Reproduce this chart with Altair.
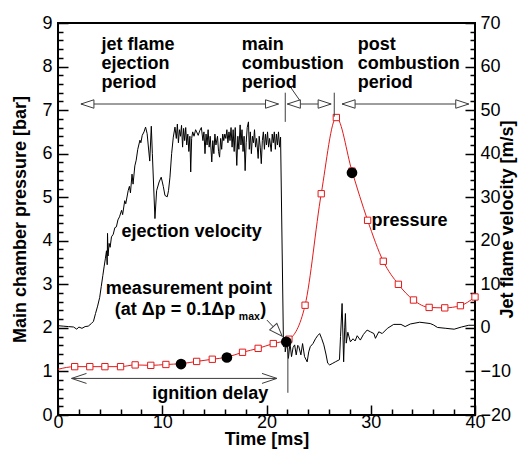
import altair as alt
import pandas as pd

# ---------------- data ----------------
# pressure (left axis, bar): square markers
p_time = [1.6, 3.05, 4.5, 6.0, 7.4, 8.9, 10.35, 11.85, 13.3, 14.8, 16.25, 17.7, 19.2,
          20.65, 22.15, 23.7, 25.25, 26.7, 28.2, 29.7, 31.2, 32.65, 34.1, 35.6, 37.1,
          38.6, 40.0]
p_val = [1.11, 1.11, 1.11, 1.11, 1.15, 1.14, 1.16, 1.18, 1.23, 1.28, 1.33, 1.44, 1.53,
         1.64, 1.74, 2.52, 5.08, 6.83, 5.6, 4.47, 3.53, 3.0, 2.64, 2.47, 2.46, 2.51, 2.71]
p_start_time = [0.0]
p_start_val = [1.05]

# jet flame velocity (right axis, m/s)
v_time = [0.0, 0.5, 1.0, 1.5, 1.8, 2.0, 2.3, 2.6, 2.9, 3.2, 3.4, 3.6, 3.8, 4.0, 4.15,
          4.3, 4.42, 4.55, 4.65, 4.72, 4.75, 4.8, 4.9, 5.0, 5.13, 5.3, 5.45, 5.6, 5.75,
          5.9, 6.1, 6.2, 6.4, 6.5, 6.73, 6.85, 6.95, 7.1, 7.2, 7.37, 7.5, 7.65, 7.86,
          7.95, 8.08, 8.25, 8.4, 8.55, 8.8, 8.95, 9.05, 9.3, 9.46, 9.7, 9.9, 10.1, 10.26,
          10.48, 10.6, 10.74, 10.9, 11.06, 11.22, 11.35, 11.45, 11.55, 11.65, 11.75,
          11.85, 11.95, 12.05, 12.15, 12.25, 12.35, 12.45, 12.55, 12.65, 12.73, 12.82,
          12.92, 13.05, 13.2, 13.3, 13.45, 13.6, 13.75, 13.9, 14.0, 14.1, 14.2, 14.3,
          14.4, 14.5, 14.6, 14.75, 14.85, 14.95, 15.05, 15.15, 15.3, 15.4, 15.5, 15.6,
          15.7, 15.8, 15.9, 16.0, 16.1, 16.2, 16.3, 16.4, 16.5, 16.6, 16.7, 16.8, 16.9,
          17.0, 17.15, 17.25, 17.35, 17.47, 17.55, 17.65, 17.75, 17.85, 17.95, 18.05,
          18.15, 18.27, 18.35, 18.45, 18.55, 18.65, 18.75, 18.85, 18.95, 19.05, 19.2,
          19.3, 19.4, 19.5, 19.6, 19.7, 19.8, 19.9, 20.0, 20.1, 20.2, 20.3, 20.45, 20.55,
          20.65, 20.75, 20.85, 20.95, 21.05, 21.15, 21.25, 21.35, 21.63, 21.75, 21.8,
          21.95, 22.1, 22.25, 22.4, 22.55, 22.7, 22.85, 23.0, 23.1, 23.3, 23.46, 23.65,
          23.9, 24.05, 24.2, 24.46, 24.7, 24.9, 25.1, 25.3, 25.5, 25.7, 25.87, 26.06,
          26.3, 26.6, 27.0, 27.1, 27.25, 27.4, 27.5, 27.57, 27.65, 27.8, 28.05, 28.3,
          28.5, 28.7, 29.0, 29.3, 29.65, 29.97, 30.3, 30.45, 30.77, 31.1, 31.6, 32.2,
          32.9, 33.3, 33.8, 34.7, 35.7, 36.0, 36.4, 37.2, 38.0, 38.7, 39.4, 40.0]
v_val = [0.5, 0.4, 0.3, 0.2, -0.3, 0.2, -0.1, 0.3, 0.4, 1.0, 1.5, 3.3, 5.0, 7.0, 9.5,
         12.0, 14.0, 16.0, 17.7, 14.5, 21.7, 16.5, 19.4, 18.5, 20.9, 21.5, 23.0, 23.2,
         24.8, 25.5, 27.0, 26.0, 29.2, 28.5, 31.5, 32.5, 31.0, 35.3, 33.0, 37.2, 38.5,
         41.0, 43.1, 42.5, 44.2, 45.0, 46.1, 44.6, 38.3, 46.3, 40.0, 25.1, 31.5, 33.5,
         34.6, 32.5, 30.4, 30.1, 31.5, 34.6, 40.0, 43.8, 46.1, 43.5, 46.8, 42.5, 45.5,
         44.0, 46.5, 41.5, 45.8, 43.0, 46.0, 42.0, 44.5, 40.5, 44.0, 35.8, 43.5, 45.0,
         44.0, 45.5, 45.0, 44.2, 45.3, 46.0, 43.0, 45.0, 40.0, 44.5, 42.0, 45.5, 41.5,
         44.0, 38.1, 43.0, 40.0, 44.5, 42.0, 44.0, 40.5, 39.2, 43.5, 41.0, 44.5, 43.0,
         44.5, 43.5, 45.5, 42.5, 45.0, 43.0, 46.0, 41.5, 45.5, 40.5, 46.0, 37.3, 44.0,
         41.0, 46.6, 42.0, 45.5, 40.5, 44.0, 36.1, 42.5, 46.0, 47.3, 41.0, 45.0, 40.0,
         44.0, 42.5, 45.5, 41.5, 43.5, 38.9, 44.0, 41.5, 37.7, 43.0, 45.0, 41.0, 44.5,
         42.0, 45.0, 41.5, 43.5, 40.5, 44.5, 42.5, 45.0, 41.0, 44.5, 42.0, 45.0, 41.5,
         43.8, -4.3, -2.5, -5.5, -3.0, -7.0, -3.5, -6.6, -4.5, -3.9, -6.2, -4.0, -4.3,
         -6.2, -3.6, -6.6, -7.8, -5.5, -4.3, -3.6, -2.5, -1.8, -1.3, -2.5, -3.9, -6.0,
         -8.1, -8.5, -8.2, -7.8, -7.3, -2.0, 5.6, -7.8, 0.0, 3.3, -3.5, -1.0, -3.2, -2.5,
         -3.0, -1.8, -2.8, -1.5, -0.5, -0.9, -1.3, -2.4, -0.9, -1.3, -0.1, 0.8, 0.8, 0.3,
         0.9, 1.3, 1.0, 0.7, 0.1, -0.1, -0.3, 0.2, 0.6, 0.6]

# measurement points (black dots)
dot_time = [11.8, 16.2, 21.9, 28.2]
dot_val = [1.17, 1.32, 1.68, 5.56]

# axis ticks
x_major = [0, 10, 20, 30, 40]
x_minor = [2, 4, 6, 8, 12, 14, 16, 18, 22, 24, 26, 28, 32, 34, 36, 38]
p_major = [0, 1, 2, 3, 4, 5, 6, 7, 8, 9]
p_minor = [round(i * 0.2, 1) for i in range(46) if i % 5 != 0]
v_major = [-20, -10, 0, 10, 20, 30, 40, 50, 60, 70]
v_minor = [v for v in range(-20, 71, 2) if v % 10 != 0]

# annotations (in time / pressure units)
period_start = [2.2, 22.0, 27.25]
period_end = [21.15, 26.2, 39.4]
period_level = [7.14, 7.14, 7.14]
ign_start = [1.3]
ign_end = [21.0]
ign_level = [0.84]
vline_time = [21.8, 26.5, 22.05]
vline_top = [7.4, 7.4, 1.55]
vline_bottom = [6.73, 6.85, 0.51]
lead_t1 = [22.06, 20.04]
lead_p1 = [7.61, 2.18]
lead_t2 = [23.2, 21.5]
lead_p2 = [7.22, 1.81]
meas_tip_t = [21.5]
meas_tip_p = [1.81]

labels_big = ["jet flame\nejection\nperiod", "main\ncombustion\nperiod",
              "post\ncombustion\nperiod", "ejection velocity", "pressure",
              "measurement point", "(at \u0394p = 0.1\u0394p", ")", "ignition delay"]
labels_big_t = [4.17, 17.63, 28.75, 6.1, 30.07, 4.59, 5.45, 19.4, 9.04]
labels_big_p = [8.39, 8.39, 8.39, 4.08, 4.33, 2.78, 2.29, 2.29, 0.36]
labels_small = ["max"]
labels_small_t = [17.35]
labels_small_p = [2.18]

# ---------------- chart ----------------
RED = "#e41a1a"
GRAY = "#3c3c3c"
FONT = "Liberation Sans"

xs = alt.Scale(domain=[0, 40], nice=False, zero=False)
ps = alt.Scale(domain=[0, 9], nice=False, zero=False)
vs = alt.Scale(domain=[-20, 70], nice=False, zero=False)

df_pline = pd.DataFrame({"t": p_start_time + p_time, "p": p_start_val + p_val})
df_pmark = pd.DataFrame({"t": p_time, "p": p_val})
df_v = pd.DataFrame({"t": v_time, "v": v_val})
df_dot = pd.DataFrame({"t": dot_time, "p": dot_val})


def XA(field="t", axis=None):
    return alt.X(f"{field}:Q", scale=xs, axis=axis)


def PY(field="p", axis=None):
    return alt.Y(f"{field}:Q", scale=ps, axis=axis)


vel = alt.Chart(df_v).mark_line(color="black", strokeWidth=1).encode(
    x=XA(),
    y=alt.Y("v:Q", scale=vs, axis=alt.Axis(
        orient="right", title="Jet flame velocity [m/s]", values=v_major,
        ticks=False, tickSize=0, domain=False, labelPadding=5,
        titleAngle=270, titleBaseline="top", titleAlign="center",
        titleX=23, titleY=196)),
)

pline = alt.Chart(df_pline).mark_line(color=RED, strokeWidth=1, interpolate="monotone").encode(
    x=XA(axis=alt.Axis(orient="bottom", title="Time [ms]", values=x_major,
                       ticks=False, tickSize=0, domain=False, labelPadding=-2,
                       titlePadding=-1)),
    y=PY(axis=alt.Axis(orient="left", title="Main chamber pressure [bar]",
                       values=p_major, ticks=False, tickSize=0, domain=False,
                       labelPadding=6, titlePadding=12)),
)

pmark = alt.Chart(df_pmark).mark_point(
    shape="square", size=40, fill="white", fillOpacity=1, stroke=RED,
    strokeWidth=1, opacity=1).encode(x=XA(), y=PY())

dots = alt.Chart(df_dot).mark_point(
    shape="circle", size=115, filled=True, color="black", opacity=1).encode(x=XA(), y=PY())


def tick_layer(kind, values, size):
    base = alt.Chart(df_pmark).mark_point(opacity=0)
    ax = dict(values=values, tickSize=size, offset=-size, labels=False,
              domain=False, title=None, ticks=True, tickWidth=1.5, tickColor="black")
    if kind == "x":
        return base.encode(x=XA(axis=alt.Axis(orient="bottom", **ax)), y=PY())
    if kind == "p":
        return base.encode(x=XA(), y=PY(axis=alt.Axis(orient="left", **ax)))
    return base.encode(x=XA(), y=alt.Y("p:Q", scale=vs, axis=alt.Axis(orient="right", **ax)))


ticks = [tick_layer("x", x_major, 10), tick_layer("x", x_minor, 6),
         tick_layer("p", p_major, 10), tick_layer("p", p_minor, 5),
         tick_layer("v", v_major, 10), tick_layer("v", v_minor, 5)]

df_per = pd.DataFrame({"t1": period_start, "t2": period_end, "p": period_level})
per_lines = alt.Chart(df_per).mark_rule(color=GRAY, strokeWidth=1).encode(
    x=XA("t1"), x2="t2:Q", y=PY())
TRI_L = "M0,0L2,-0.65L2,0.65Z"
TRI_R = "M0,0L-2,-0.65L-2,0.65Z"
per_head_l = alt.Chart(df_per).mark_point(
    shape=TRI_L, size=169, fill="white", fillOpacity=1, stroke=GRAY, strokeWidth=1,
    opacity=1).encode(x=XA("t1"), y=PY())
per_head_r = alt.Chart(df_per).mark_point(
    shape=TRI_R, size=169, fill="white", fillOpacity=1, stroke=GRAY, strokeWidth=1,
    opacity=1).encode(x=XA("t2"), y=PY())

df_ign = pd.DataFrame({"t1": ign_start, "t2": ign_end, "p": ign_level})
ign_line = alt.Chart(df_ign).mark_rule(color=GRAY, strokeWidth=1).encode(
    x=XA("t1"), x2="t2:Q", y=PY())
CHEV_L = "M2.3,-0.77L0,0L2.3,0.77"
CHEV_R = "M-2.3,-0.77L0,0L-2.3,0.77"
ign_head_l = alt.Chart(df_ign).mark_point(
    shape=CHEV_L, size=169, filled=False, stroke=GRAY, strokeWidth=1, opacity=1).encode(
    x=XA("t1"), y=PY())
ign_head_r = alt.Chart(df_ign).mark_point(
    shape=CHEV_R, size=169, filled=False, stroke=GRAY, strokeWidth=1, opacity=1).encode(
    x=XA("t2"), y=PY())

df_vl = pd.DataFrame({"t": vline_time, "p1": vline_top, "p2": vline_bottom})
vlines = alt.Chart(df_vl).mark_rule(color=GRAY, strokeWidth=1).encode(
    x=XA(), y=PY("p1"), y2="p2:Q")

df_lead = pd.DataFrame({"t1": lead_t1, "p1": lead_p1, "t2": lead_t2, "p2": lead_p2})
leads = alt.Chart(df_lead).mark_rule(color=GRAY, strokeWidth=1).encode(
    x=XA("t1"), y=PY("p1"), x2="t2:Q", y2="p2:Q")

df_mt = pd.DataFrame({"t": meas_tip_t, "p": meas_tip_p})
meas_head = alt.Chart(df_mt).mark_point(
    shape="M0,0L-2,-0.75L-2,0.75Z", size=169, angle=47, fill="white", fillOpacity=1,
    stroke=GRAY, strokeWidth=1, opacity=1).encode(x=XA(), y=PY())

df_tb = pd.DataFrame({"label": labels_big, "t": labels_big_t, "p": labels_big_p})
txt_big = alt.Chart(df_tb).mark_text(
    align="left", baseline="alphabetic", font=FONT, fontSize=18, fontWeight="bold",
    lineBreak="\n", lineHeight=19, color="black").encode(x=XA(), y=PY(), text="label:N")
df_ts = pd.DataFrame({"label": labels_small, "t": labels_small_t, "p": labels_small_p})
txt_small = alt.Chart(df_ts).mark_text(
    align="left", baseline="alphabetic", font=FONT, fontSize=10.5, fontWeight="bold",
    color="black").encode(x=XA(), y=PY(), text="label:N")

chart = alt.layer(
    *ticks, vel, pline, pmark, dots,
    per_lines, per_head_l, per_head_r, ign_line, ign_head_l, ign_head_r,
    vlines, leads, meas_head, txt_big, txt_small,
).resolve_scale(y="independent").resolve_axis(x="independent", y="independent").properties(
    width=417, height=392,
    autosize=alt.AutoSizeParams(type="none"),
    padding={"left": 50, "top": 15, "right": 43, "bottom": 35},
).configure_axis(
    labelFont=FONT, labelFontSize=18, labelColor="black",
    titleFont=FONT, titleFontSize=18, titleFontWeight="bold", titleColor="black",
    grid=False, labelFlush=False,
).configure_view(stroke="black", strokeWidth=2)

chart.save("out.html", embed_options={"renderer": "svg", "actions": False})
